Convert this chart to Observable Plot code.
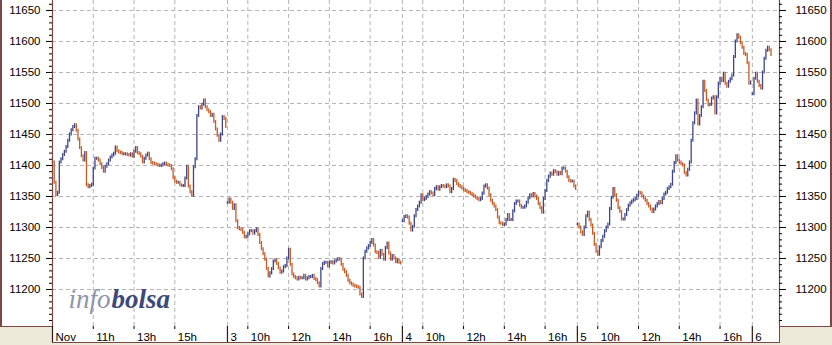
<!DOCTYPE html>
<html><head><meta charset="utf-8">
<script src="https://cdn.jsdelivr.net/npm/d3@7"></script>
<script src="https://cdn.jsdelivr.net/npm/@observablehq/plot@0.6"></script>
<style>
html,body{margin:0;padding:0;background:#ece9d8;}
#wrap{position:relative;width:832px;height:345px;overflow:hidden;background:#ece9d8;}
#box{position:absolute;left:0;top:0;width:832px;height:327px;background:#fff;box-sizing:border-box;border-left:2px solid #7a4646;border-right:2px solid #7a4646;border-bottom:1px solid #7a4646;}
#band{position:absolute;left:52px;top:326px;width:728px;height:17px;background:#fff;box-sizing:border-box;border-right:1px solid #7a4646;border-bottom:1px solid #7a4646;}
#chart{position:absolute;left:0;top:0;}
</style></head><body>
<div id="wrap"><div id="box"></div><div id="band"></div><div id="chart"></div></div>
<script>
// Session: 9:00 – 17:35 (515 minutes), 5-minute bars (closing values)
const SESSION = 515;
const BAR = 5;
const dayLabels = ["Nov", "3", "4", "5", "6"];
const hourTicks = [[11, 13, 15], [10, 12, 14, 16], [10, 12, 14, 16], [10, 12, 14, 16], []];
const yMajor = [11200, 11250, 11300, 11350, 11400, 11450, 11500, 11550, 11600, 11650];

const day1 = [11405,11372,11352,11356,11405,11410,11417,11422,11430,11440,
11450,11457,11462,11465,11456,11442,11428,11415,11408,11420,
11368,11365,11367,11369,11395,11411,11411,11408,11402,11396,
11390,11398,11402,11408,11413,11416,11419,11429,11423,11421,
11420,11418,11418,11418,11417,11416,11418,11414,11422,11428,
11420,11418,11414,11405,11411,11416,11419,11410,11404,11403,
11402,11401,11400,11399,11400,11402,11403,11401,11400,11399,
11394,11380,11374,11372,11372,11368,11367,11367,11379,11398,
11366,11357,11351,11397,11410,11480,11494,11492,11498,11505,
11494,11489,11486,11480,11482,11470,11458,11448,11440,11450,
11478,11475,11462];
const day2 = [11340,11345,11340,11330,11336,11310,11299,11297,11296,11291,
11284,11285,11289,11294,11294,11290,11294,11297,11288,11275,
11265,11257,11248,11233,11221,11226,11233,11245,11247,11241,
11234,11227,11229,11236,11238,11250,11264,11240,11224,11220,
11218,11216,11219,11218,11218,11222,11216,11218,11220,11220,
11222,11217,11215,11210,11205,11233,11241,11243,11243,11237,
11243,11244,11242,11245,11247,11249,11248,11240,11232,11228,
11222,11214,11210,11208,11206,11205,11204,11203,11192,11188,
11250,11261,11266,11270,11275,11280,11271,11260,11259,11251,
11262,11256,11248,11267,11274,11258,11248,11254,11250,11244,
11247,11243,11242];
const day3 = [11310,11317,11318,11316,11306,11295,11301,11318,11328,11334,
11340,11352,11344,11346,11349,11353,11357,11355,11352,11362,
11365,11361,11365,11367,11366,11365,11368,11366,11357,11362,
11377,11375,11370,11367,11365,11363,11360,11359,11357,11356,
11354,11352,11350,11348,11346,11344,11346,11355,11366,11368,
11363,11352,11343,11338,11334,11328,11316,11307,11306,11304,
11305,11312,11320,11312,11312,11326,11338,11342,11342,11335,
11332,11332,11334,11340,11347,11352,11350,11354,11350,11346,
11338,11331,11324,11346,11359,11375,11382,11387,11385,11391,
11389,11385,11388,11386,11395,11395,11390,11381,11375,11374,
11374,11366,11362];
const day4 = [11305,11300,11292,11288,11300,11318,11324,11312,11303,11290,
11272,11261,11256,11268,11278,11285,11294,11300,11305,11330,
11348,11362,11352,11343,11331,11325,11313,11313,11320,11328,
11335,11339,11342,11344,11346,11351,11356,11355,11350,11347,
11343,11338,11334,11329,11325,11329,11334,11338,11341,11339,
11346,11353,11356,11362,11365,11369,11390,11404,11415,11408,
11405,11402,11400,11388,11384,11393,11405,11440,11468,11484,
11505,11466,11480,11494,11535,11520,11505,11497,11498,11508,
11510,11484,11510,11532,11540,11536,11548,11532,11527,11535,
11539,11545,11575,11600,11610,11606,11597,11590,11580,11578,
11565,11532,11534];
const day5 = [11515,11540,11548,11535,11528,11524,11550,11572,11585,11590,11586,11578];

const closes = [day1, day2, day3, day4, day5];
const BLUE = "#3f4687", RED = "#c55a25", GRID = "#b4b4b4", FRAME = "#7a4646";

const bars = [];
closes.forEach((arr, d) => arr.forEach((c, k) => {
  const o = k > 0 ? arr[k - 1] : c;
  bars.push({t: d * SESSION + k * BAR, lo: Math.min(o, c), hi: Math.max(o, c), up: c >= o});
}));
const dayStarts = dayLabels.map((_, d) => d * SESSION);
const hourTimes = hourTicks.flatMap((hs, d) => hs.map(h => d * SESSION + (h - 9) * 60));
const labelOf = new Map([
  ...dayLabels.map((l, d) => [d * SESSION, l]),
  ...hourTicks.flatMap((hs, d) => hs.map(h => [d * SESSION + (h - 9) * 60, h + "h"]))
]);
const xEnd = 4 * SESSION + 80; // visible until 10:20 of the last day
const yLo = 11140.3, yHi = 11666.1;
const yMinor = d3.range(11150, 11661, 10);

const chart = Plot.plot({
  width: 832, height: 345,
  marginLeft: 52, marginRight: 53, marginTop: 0, marginBottom: 19,
  style: {background: "transparent", fontFamily: "'Liberation Sans', Arial, sans-serif", fontSize: "11.5px", color: "#000"},
  x: {domain: [0, xEnd], label: null},
  y: {domain: [yLo, yHi], label: null},
  marks: [
    Plot.ruleY(yMajor, {stroke: GRID, strokeDasharray: "4,3"}),
    Plot.ruleX([...dayStarts.slice(1), ...hourTimes], {stroke: GRID, strokeDasharray: "4,3"}),
    Plot.ruleX(bars.filter(d => d.up), {x: "t", y1: "hi", y2: "lo", stroke: BLUE, strokeWidth: 1.3, insetTop: -1.5, insetBottom: -1.5}),
    Plot.ruleX(bars.filter(d => !d.up), {x: "t", y1: "hi", y2: "lo", stroke: RED, strokeWidth: 1.3, insetTop: -1.5, insetBottom: -1.5}),
    Plot.ruleX([0, xEnd], {stroke: FRAME, strokeWidth: 1.2}),
    // minor ticks (every 10 points) on both sides
    Plot.ruleY(yMinor, {x1: 0, x2: 0, insetLeft: -3, stroke: "#000"}),
    Plot.ruleY(yMinor, {x1: xEnd, x2: xEnd, insetRight: -3, stroke: "#000"}),
    // major ticks with labels
    Plot.axisY(yMajor, {anchor: "left", tickSize: 6, tickPadding: 6, tickFormat: d => String(d)}),
    Plot.axisY(yMajor, {anchor: "right", tickSize: 6, tickPadding: 10, tickFormat: d => String(d)}),
    // day separators and hour ticks in the time band
    Plot.ruleX(dayStarts, {x: d => d, y1: yLo, y2: yLo, insetBottom: -16, stroke: "#2a1a1a", strokeWidth: 1.2}),
    Plot.ruleX(hourTimes, {x: d => d, y1: yLo, y2: yLo, insetBottom: -3, stroke: "#000"}),
    Plot.axisX([...dayStarts, ...hourTimes], {tickSize: 0, tickPadding: 6, textAnchor: "start", dx: 3, tickFormat: t => labelOf.get(t)}),
    Plot.text(["info"], {text: d => d, frameAnchor: "bottom-left", dx: 16, dy: -19, textAnchor: "start", lineAnchor: "bottom",
      fontFamily: "'Liberation Serif', serif", fontStyle: "italic", fontSize: 27, fill: "#8e94ab"}),
    Plot.text(["bolsa"], {text: d => d, frameAnchor: "bottom-left", dx: 59, dy: -19, textAnchor: "start", lineAnchor: "bottom",
      fontFamily: "'Liberation Serif', serif", fontStyle: "italic", fontWeight: "bold", fontSize: 27, fill: "#3c4a7a"})
  ]
});
document.getElementById("chart").appendChild(chart);
</script>
</body></html>
